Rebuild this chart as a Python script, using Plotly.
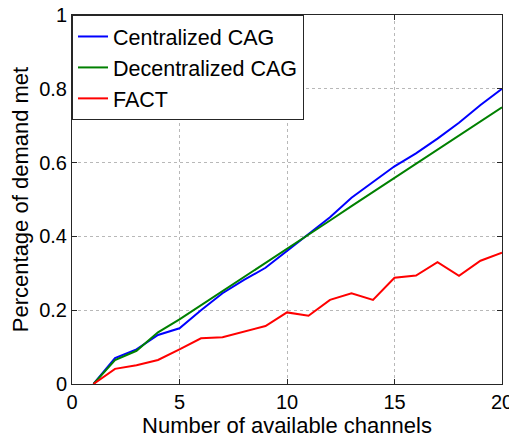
import plotly.graph_objects as go

channels = list(range(1, 21))
centralized = [0, 0.070, 0.094, 0.133, 0.151, 0.200, 0.246, 0.282, 0.315, 0.360,
               0.405, 0.452, 0.505, 0.548, 0.590, 0.625, 0.665, 0.708, 0.756, 0.800]
decentralized = [0, 0.065, 0.090, 0.140, 0.175, 0.213, 0.252, 0.290, 0.328, 0.367,
                 0.405, 0.443, 0.482, 0.520, 0.558, 0.597, 0.635, 0.673, 0.712, 0.750]
fact = [0, 0.041, 0.051, 0.065, 0.094, 0.124, 0.127, 0.142, 0.157, 0.194,
        0.185, 0.228, 0.246, 0.228, 0.288, 0.294, 0.330, 0.293, 0.334, 0.356]

series = [("Centralized CAG", centralized, "#0000ff"),
          ("Decentralized CAG", decentralized, "#008000"),
          ("FACT", fact, "#ff0000")]

fig = go.Figure()
for name, vals, col in series:
    fig.add_trace(go.Scatter(x=channels, y=vals, mode="lines", name=name,
                             line=dict(color=col, width=2)))

font = "Liberation Sans, Arial, Helvetica, sans-serif"
axis_common = dict(showline=True, linecolor="#262626", linewidth=1, mirror="ticks",
                   ticks="inside", ticklen=5, tickcolor="#262626",
                   showgrid=True, gridcolor="#b8b8b8", griddash="dot", gridwidth=1,
                   zeroline=False, automargin=False, ticklabeloverflow="allow",
                   tickfont=dict(size=20, color="black", family=font))

# the page body adds an 8px offset; the figure is sized to fill the rest of the window
fig.update_layout(
    width=509, height=430,
    margin=dict(l=64, r=15, t=7, b=54),
    paper_bgcolor="white", plot_bgcolor="white",
    font=dict(family=font, color="black"),
    xaxis=dict(range=[0, 20], tickvals=[0, 5, 10, 15, 20],
               title=dict(text="Number of available channels", font=dict(size=22), standoff=4),
               **axis_common),
    yaxis=dict(range=[0, 1], tickvals=[0, 0.2, 0.4, 0.6, 0.8, 1],
               ticktext=["0", "0.2", "0.4", "0.6", "0.8", "1"],
               title=dict(text="Percentage of demand met", font=dict(size=22), standoff=8),
               **axis_common),
    legend=dict(x=0, y=1, xanchor="left", yanchor="top", bgcolor="white",
                bordercolor="#262626", borderwidth=1, font=dict(size=21.5),
                itemwidth=30, tracegroupgap=0),
    showlegend=True,
)

fig.write_html("out.html")
